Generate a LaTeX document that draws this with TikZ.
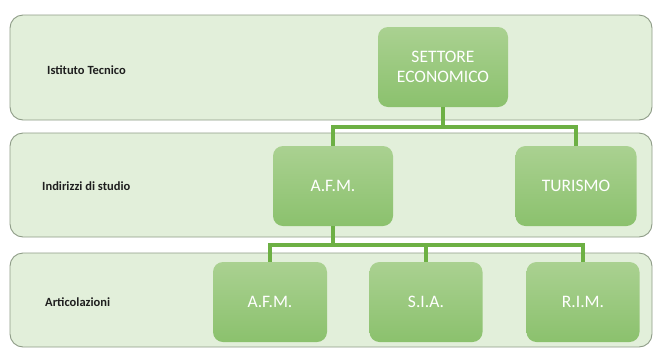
\documentclass[tikz,border=0pt]{standalone}
\usepackage{fontspec}
\setmainfont{Carlito}
\definecolor{bandfill}{HTML}{E2EFDA}
\definecolor{banddraw}{HTML}{8E9C87}
\definecolor{boxtop}{HTML}{AAD191}
\definecolor{boxbot}{HTML}{8BC16D}
\definecolor{connc}{HTML}{6DB044}
\definecolor{labc}{HTML}{1F1F1F}
\begin{document}
\begin{tikzpicture}[x=1pt,y=-1pt,
  band/.style={draw=banddraw,line width=0.9pt,fill=bandfill,rounded corners=13pt},
  gbox/.style={rectangle,rounded corners=10pt,top color=boxtop,bottom color=boxbot,
    draw=none,text=white,font=\fontsize{17.5}{20}\selectfont,align=center,inner sep=0pt},
  blabel/.style={text=labc,font=\bfseries\fontsize{12.5}{14}\selectfont,anchor=west,inner sep=0pt},
  conn/.style={draw=connc,line width=3.2pt}]
\useasboundingbox (0,0) rectangle (654,349);
\fill[white] (0,0) rectangle (654,349);
% bands
\draw[band] (10,15) rectangle (652,120);
\draw[band] (10,133) rectangle (652,237);
\draw[band] (10,253) rectangle (652,347);
% band labels
\node[blabel] (l1) at (47,70) {Istituto Tecnico};
\node[blabel] (l2) at (42,186) {Indirizzi di studio};
\node[blabel] (l3) at (45,302) {Articolazioni};
% boxes
\node[gbox,minimum width=130pt,minimum height=80pt] (set) at (443,67) {SETTORE\\ECONOMICO};
\node[gbox,minimum width=120pt,minimum height=80pt] (afmtwo) at (333,186) {A.F.M.};
\node[gbox,minimum width=121pt,minimum height=80pt] (tur) at (576,186) {TURISMO};
\node[gbox,minimum width=114pt,minimum height=80pt] (afmthree) at (270,302) {A.F.M.};
\node[gbox,minimum width=113pt,minimum height=80pt] (sia) at (426,302) {S.I.A.};
\node[gbox,minimum width=113pt,minimum height=80pt] (rim) at (583,302) {R.I.M.};
% connectors
\coordinate (ja) at (443,127);
\coordinate (jb) at (333,245);
\draw[conn] (set.south) -- (ja);
\draw[conn] (ja) -| (afmtwo.north);
\draw[conn] (ja) -| (tur.north);
\draw[conn] (afmtwo.south) -- (jb);
\draw[conn] (jb) -| (afmthree.north);
\draw[conn] (jb) -| (sia.north);
\draw[conn] (jb) -| (rim.north);
\end{tikzpicture}
\end{document}
